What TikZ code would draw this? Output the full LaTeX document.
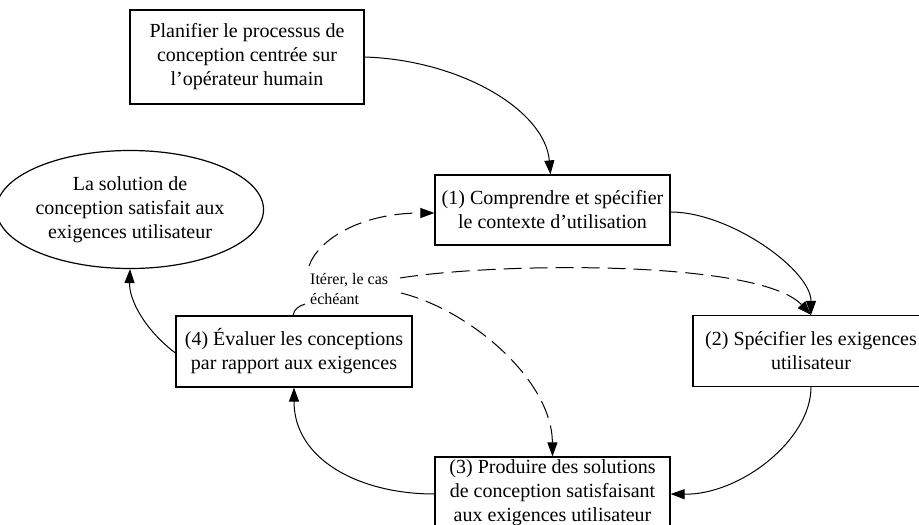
\documentclass[tikz,border=0pt]{standalone}
\usepackage{fontspec}
\setmainfont{Liberation Serif}
\usetikzlibrary{arrows.meta,shapes.geometric}
\tikzset{
  stepbox/.style={draw, line width=1.2pt, minimum width=235pt, minimum height=71pt,
    align=center, inner sep=0pt, font=\fontsize{20}{24}\selectfont},
  goalshape/.style={ellipse, draw, line width=1.2pt, minimum width=235pt, minimum height=118pt,
    align=center, inner sep=0pt, font=\fontsize{20}{24}\selectfont},
  flow/.style={line width=1pt, -{Triangle[length=14pt,width=10pt]}},
  iterflow/.style={flow, dash pattern=on 18pt off 8pt},
  iterlabel/.style={fill=white, align=left, inner sep=1pt, font=\fontsize{16}{20}\selectfont}
}
\begin{document}
\begin{tikzpicture}[x=1pt,y=-1pt]
\clip (0,0) rectangle (919,525);
\fill[white] (0,0) rectangle (919,525);

\node[stepbox, minimum width=234pt, minimum height=94pt] (plan) at (247,57)
  {Planifier le processus de\\conception centrée sur\\l’opérateur humain};
\node[stepbox, minimum height=70pt] (b1) at (552.5,210)
  {(1) Comprendre et spécifier\\le contexte d’utilisation};
\node[stepbox, minimum width=236pt] (b2) at (811,351)
  {(2) Spécifier les exigences\\utilisateur};
\node[stepbox, minimum height=72pt] (b3) at (552.5,493)
  {(3) Produire des solutions\\de conception satisfaisant\\aux exigences utilisateur};
\node[stepbox, minimum width=236pt] (b4) at (294,351.5)
  {(4) Évaluer les conceptions\\par rapport aux exigences};
\node[goalshape] (goal) at (130,209.5)
  {La solution de\\conception satisfait aux\\exigences utilisateur};

% solid flow
\draw[flow] (plan.east) .. controls (460,60) and (545,110) .. ([xshift=-2pt]b1.north);
\draw[flow] ([yshift=-2pt]b1.east) .. controls (730,212) and (811,270) .. (b2.north);
\draw[flow] (b2.south) .. controls (811,440) and (740,495) .. ([yshift=-1pt]b3.east);
\draw[flow] ([yshift=-1pt]b3.west) .. controls (360,494) and (294,460) .. (b4.south);
\draw[flow] ([yshift=-1.5pt]b4.west) .. controls (145,330) and (129,300) .. (goal.south);

% iteration (dashed)
\node[iterlabel, anchor=west] (iter) at (309,289) {Itérer, le cas\\échéant};
\coordinate (i0) at (305,304);
\coordinate (i1) at (309,266);
\coordinate (i2) at (400,278);
\coordinate (i3) at (401,293);
\draw[line width=1pt] ([xshift=-1pt]b4.north) .. controls (294,309) and (299,306) .. (i0);
\draw[iterflow] (i1) .. controls (318,240) and (360,213) .. ([yshift=-3pt]b1.west);
\draw[iterflow] (i2) .. controls (500,262) and (760,260) .. (b2.north);
\draw[iterflow] (i3) .. controls (470,310) and (552,380) .. (b3.north);
\end{tikzpicture}
\end{document}
